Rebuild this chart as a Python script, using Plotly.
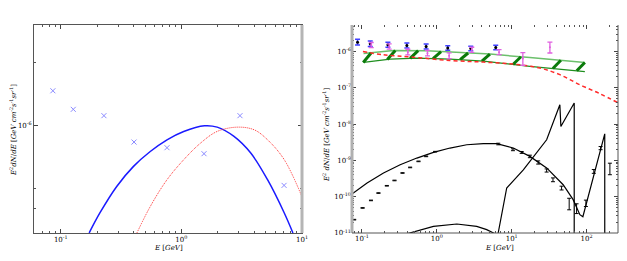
import numpy as np
import plotly.graph_objects as go

# ---------------- Left panel data ----------------
left_pts_E = [0.086, 0.127, 0.228, 0.405, 0.76, 1.54, 3.06, 7.1]
left_pts_F = [1.46e-6, 1.19e-6, 1.11e-6, 8.3e-7, 7.8e-7, 7.3e-7, 1.11e-6, 5.15e-7]

left_blue_E = [0.172, 0.211, 0.291, 0.401, 0.552, 0.760, 1.045, 1.555, 1.98, 2.73, 3.76, 5.18, 7.13, 8.41]
left_blue_F = [3.05e-7, 3.80e-7, 5.09e-7, 6.35e-7, 7.48e-7, 8.51e-7, 9.33e-7, 9.93e-7, 9.78e-7,
               8.83e-7, 7.35e-7, 5.48e-7, 3.80e-7, 3.05e-7]

left_red_E = [0.428, 0.552, 0.760, 1.045, 1.44, 1.98, 2.91, 4.01, 5.18, 7.13, 10.1]
left_red_F = [3.05e-7, 4.08e-7, 5.48e-7, 6.83e-7, 8.20e-7, 9.33e-7, 9.78e-7, 9.50e-7, 8.51e-7,
              6.83e-7, 4.48e-7]

# ---------------- Right panel data ----------------
blue_E = [0.0873, 0.129, 0.222, 0.398, 0.72, 1.40, 2.84, 6.12]
blue_F = [1.81e-6, 1.63e-6, 1.53e-6, 1.46e-6, 1.37e-6, 1.24e-6, 1.21e-6, 1.29e-6]
blue_err_frac = [0.2, 0.2, 0.18, 0.18, 0.18, 0.16, 0.16, 0.16]

mag_E = [0.133, 0.231, 0.41, 0.75, 1.46, 2.93, 6.78, 14.1, 32.4]
mag_F = [1.50e-6, 1.37e-6, 9.6e-7, 9.0e-7, 7.6e-7, 1.11e-6, 9.6e-7, 6.4e-7, 1.30e-6]
mag_err_up = [0.18, 0.18, 0.2, 0.2, 0.2, 0.18, 0.18, 0.45, 0.4]
mag_err_dn = [0.15, 0.15, 0.16, 0.16, 0.16, 0.15, 0.15, 0.35, 0.3]

band_E = [0.105, 0.264, 0.736, 1.50, 5.14, 17.5, 94.9]
band_hi = [8.8e-7, 1.07e-6, 1.05e-6, 9.6e-7, 8.5e-7, 6.8e-7, 5.0e-7]
band_lo_E = [0.105, 0.238, 0.541, 1.50, 4.18, 17.5, 94.9]
band_lo = [5.0e-7, 6.2e-7, 6.6e-7, 6.2e-7, 5.4e-7, 3.9e-7, 2.8e-7]
band_seg_start = [0.104, 0.218, 0.44, 0.89, 2.05, 4.0, 10.4, 35.5, 74.0]
band_seg_end = [0.133, 0.279, 0.563, 1.14, 2.62, 5.12, 13.3, 45.4, 94.9]

red_E = [0.103, 0.194, 0.464, 1.50, 4.18, 10.5, 23.8, 44, 81.4, 150, 261]
red_F = [1.0e-6, 8.1e-7, 7.0e-7, 5.65e-7, 5.1e-7, 4.5e-7, 3.5e-7, 2.3e-7, 1.21e-7, 6.9e-8, 3.9e-8]

c1_E = [0.0743, 0.117, 0.194, 0.324, 0.541, 0.902, 1.50, 2.51, 4.18, 6.31, 10.5, 17.5, 29.3,
        48.7, 66.2, 81.4, 89.3, 100, 129, 166, 175, 175]
c1_F = [1.21e-10, 2.39e-10, 4.50e-10, 7.6e-10, 1.16e-9, 1.66e-9, 2.19e-9, 2.70e-9, 2.88e-9,
        2.88e-9, 2.19e-9, 1.29e-9, 6.2e-10, 2.14e-10, 8.3e-11, 3.2e-11, 2.8e-11, 6.7e-11,
        4.5e-10, 3.7e-9, 5.4e-9, 1e-12]

c2_E = [0.398, 0.902, 1.85, 3.41, 4.64, 6.31, 6.6, 8.58, 14.3, 29.3, 44.0, 45.4, 68.4, 68.4]
c2_F = [9.5e-12, 1.52e-11, 1.77e-11, 1.52e-11, 1.24e-11, 9.0e-12, 1.0e-11, 1.74e-10, 5.5e-10,
        3.7e-9, 3.4e-8, 8.6e-9, 3.8e-8, 1e-12]

pts_E = [0.0787, 0.102, 0.132, 0.166, 0.215, 0.272, 0.348, 0.44, 0.569, 0.72, 0.95,
         6.62, 10.4, 13.6, 17.5, 22.6, 29.3, 35.6, 46.4, 58.6, 73.6, 98, 125, 154, 205]
pts_F = [2.33e-11, 4.9e-11, 7.9e-11, 1.26e-10, 2.0e-10, 2.8e-10, 4.5e-10, 6.4e-10, 9.4e-10,
         1.29e-9, 1.74e-9,
         2.83e-9, 1.97e-9, 1.66e-9, 1.29e-9, 8.8e-10, 5.3e-10, 2.94e-10, 1.74e-10, 6.7e-11,
         4.9e-11, 6.7e-11, 5.0e-10, 2.19e-9, 6.2e-10]
pts_err = [0.02] * 11 + [0.05, 0.06, 0.06, 0.08, 0.1, 0.1, 0.12, 0.12, 0.35, 0.3, 0.2, 0.12, 0.1, 0.35]

# ---------------- Figure ----------------
# page body has an 8px margin: lay out in screen pixels and compensate
OFF = 8
W, H = 627 - OFF, 261 - OFF
px = lambda s: (s - OFF) / W
py = lambda s: 1 - (s - OFF) / H

fig = go.Figure()
serif = "DejaVu Serif"

# left panel
fig.add_trace(go.Scatter(x=left_pts_E, y=left_pts_F, mode="markers", xaxis="x", yaxis="y",
                         marker=dict(symbol="x-thin", size=5, line=dict(color="#8a8aff", width=1))))
fig.add_trace(go.Scatter(x=left_blue_E, y=left_blue_F, mode="lines", xaxis="x", yaxis="y",
                         line=dict(color="#1a1aff", width=1.5, shape="spline")))
fig.add_trace(go.Scatter(x=left_red_E, y=left_red_F, mode="lines", xaxis="x", yaxis="y",
                         line=dict(color="#ff3030", width=1, dash="1px,1px", shape="spline")))

# right panel: band
fig.add_trace(go.Scatter(x=band_E, y=band_hi, mode="lines", xaxis="x2", yaxis="y2",
                         line=dict(color="#6cc06c", width=1.5)))
fig.add_trace(go.Scatter(x=band_lo_E, y=band_lo, mode="lines", xaxis="x2", yaxis="y2",
                         line=dict(color="#1f8f1f", width=1.3)))
lx_hi = np.log10(band_E); ly_hi = np.log10(band_hi)
lx_lo = np.log10(band_lo_E); ly_lo = np.log10(band_lo)
seg_x, seg_y = [], []
for s, e in zip(band_seg_start, band_seg_end):
    seg_x += [s, e, None]
    seg_y += [10 ** np.interp(np.log10(s), lx_lo, ly_lo), 10 ** np.interp(np.log10(e), lx_hi, ly_hi), None]
fig.add_trace(go.Scatter(x=seg_x, y=seg_y, mode="lines", xaxis="x2", yaxis="y2",
                         line=dict(color="#0a7a0a", width=3)))

# red dashed
fig.add_trace(go.Scatter(x=red_E, y=red_F, mode="lines", xaxis="x2", yaxis="y2",
                         line=dict(color="#ff2a2a", width=1.5, dash="4px,3px", shape="spline")))

# blue points
fig.add_trace(go.Scatter(x=blue_E, y=blue_F, mode="markers", xaxis="x2", yaxis="y2",
                         marker=dict(color="black", size=3),
                         error_y=dict(type="data", array=[f * r for f, r in zip(blue_F, blue_err_frac)],
                                      arrayminus=[f * r * 0.8 for f, r in zip(blue_F, blue_err_frac)],
                                      color="#4040ff", thickness=1.5, width=2.5)))
# magenta points
fig.add_trace(go.Scatter(x=mag_E, y=mag_F, mode="markers", xaxis="x2", yaxis="y2",
                         marker=dict(color="#e060e0", size=2),
                         error_y=dict(type="data", array=[f * r for f, r in zip(mag_F, mag_err_up)],
                                      arrayminus=[f * r for f, r in zip(mag_F, mag_err_dn)],
                                      color="#e060e0", thickness=1.3, width=2.5)))

# black curves
fig.add_trace(go.Scatter(x=c1_E, y=c1_F, mode="lines", xaxis="x2", yaxis="y2",
                         line=dict(color="black", width=1.2)))
fig.add_trace(go.Scatter(x=c2_E, y=c2_F, mode="lines", xaxis="x2", yaxis="y2",
                         line=dict(color="black", width=1.2)))
fig.add_trace(go.Scatter(x=pts_E, y=pts_F, mode="markers", xaxis="x2", yaxis="y2",
                         marker=dict(color="black", size=1, opacity=0),
                         error_y=dict(type="data", array=[f * r for f, r in zip(pts_F, pts_err)],
                                      color="black", thickness=1, width=2)))

dec_minor = lambda lo, hi: [m * 10.0 ** d for d in range(lo, hi) for m in range(2, 10)]

axis_common = dict(type="log", ticks="inside", ticklen=4, tickwidth=1, tickcolor="#444",
                   showgrid=False, zeroline=False, mirror="allticks", automargin=False,
                   tickfont=dict(family=serif, size=7, color="black"))

fig.update_layout(
    template="none",
    width=W, height=H, margin=dict(l=0, r=0, t=0, b=0),
    paper_bgcolor="white", plot_bgcolor="white", showlegend=False,
    xaxis=dict(**axis_common, domain=[px(34), px(302)], anchor="y",
               range=[np.log10(0.06), 1], showline=True, linecolor="#555", linewidth=1,
               tickvals=[0.1, 1, 10], ticktext=["10<sup>-1</sup>", "10<sup>0</sup>", "10<sup>1</sup>"],
               minor=dict(ticks="inside", ticklen=2, tickcolor="#555",
                          tickvals=[v for v in dec_minor(-2, 1) if 0.06 < v < 10])),
    yaxis=dict(**axis_common, domain=[py(233), py(25)], anchor="x",
               range=[-6.516, -5.521], showline=True, linecolor="#555", linewidth=1,
               tickvals=[1e-6], ticktext=["10<sup>-6</sup>"],
               minor=dict(ticks="inside", ticklen=2, tickcolor="#555", tickvals=[4e-7, 5e-7, 2e-6])),
    xaxis2=dict(**axis_common, domain=[px(352), px(618)], anchor="y2",
                range=[-1.133, 2.42], showline=False,
                tickvals=[0.1, 1, 10, 100],
                ticktext=["10<sup>-1</sup>", "10<sup>0</sup>", "10<sup>1</sup>", "10<sup>2</sup>"],
                minor=dict(ticks="inside", ticklen=2, tickcolor="#555",
                           tickvals=[v for v in dec_minor(-2, 3) if 0.0736 < v < 263])),
    yaxis2=dict(**axis_common, domain=[py(233), py(25)], anchor="x2",
                range=[-11, -5.27], showline=False,
                tickvals=[1e-11, 1e-10, 1e-9, 1e-8, 1e-7, 1e-6],
                ticktext=["10<sup>-11</sup>", "10<sup>-10</sup>", "10<sup>-9</sup>", "10<sup>-8</sup>",
                          "10<sup>-7</sup>", "10<sup>-6</sup>"],
                minor=dict(ticks="inside", ticklen=2, tickcolor="#555",
                           tickvals=dec_minor(-11, -5))),
)

# frame lines
fig.add_shape(type="line", xref="x domain", yref="y domain", x0=1, x1=1, y0=0, y1=1,
              line=dict(color="#b5b5b5", width=3))
fig.add_shape(type="line", xref="x2 domain", yref="y2 domain", x0=0, x1=0, y0=0, y1=1,
              line=dict(color="#b0b0b0", width=3))
fig.add_shape(type="line", xref="x2 domain", yref="y2 domain", x0=1, x1=1, y0=0, y1=1,
              line=dict(color="#555", width=1))
fig.add_shape(type="line", xref="x2 domain", yref="y2 domain", x0=0, x1=1, y0=0, y1=0,
              line=dict(color="#555", width=1))

title_font = dict(family=serif, size=7, color="black")
ann = dict(xref="paper", yref="paper", showarrow=False, font=title_font,
           xanchor="center", yanchor="middle")
fig.add_annotation(text="<i>E</i> [<i>GeV</i>]", x=px(168), y=py(248), **ann)
fig.add_annotation(text="<i>E</i> [<i>GeV</i>]", x=px(499), y=py(248), **ann)
fig.add_annotation(text="<i>E</i><sup>2</sup><i>dN</i>/<i>dE</i> [<i>GeV cm</i><sup>-2</sup><i>s</i><sup>-1</sup><i>sr</i><sup>-1</sup>]",
                   x=px(13), y=py(130), textangle=-90, **ann)
fig.add_annotation(text="<i>E</i><sup>2</sup> <i>dN</i>/<i>dE</i> [<i>GeV cm</i><sup>-2</sup><i>s</i><sup>-1</sup><i>sr</i><sup>-1</sup>]",
                   x=px(326), y=py(135), textangle=-90, **ann)

fig.write_html("out.html")
